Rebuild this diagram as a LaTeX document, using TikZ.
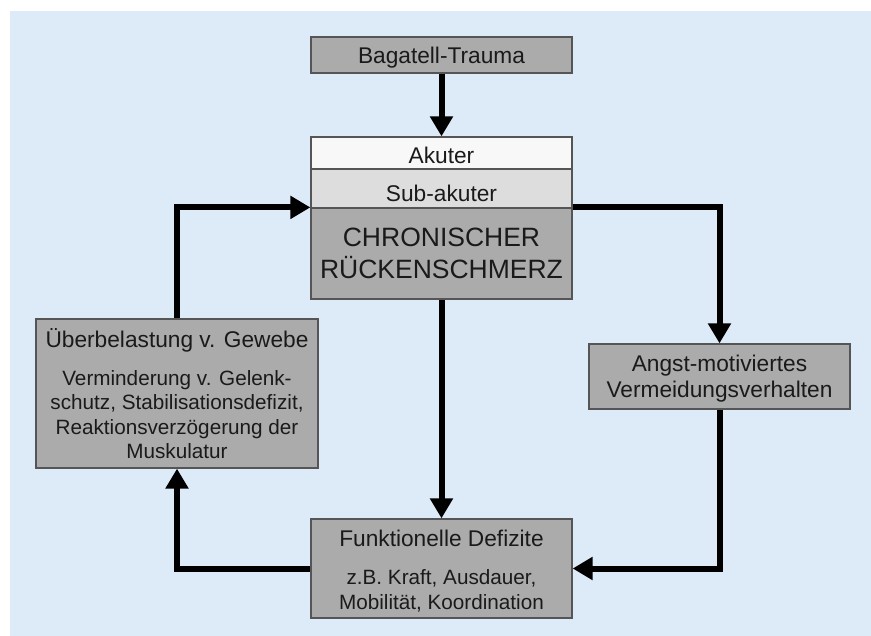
\documentclass[tikz,border=0pt]{standalone}
\usepackage{fontspec}
\setmainfont{Liberation Sans}
\usetikzlibrary{arrows.meta}
\definecolor{bgblue}{HTML}{DDEAF7}
\definecolor{boxgray}{HTML}{ABABAB}
\definecolor{akutcol}{HTML}{F8F8F8}
\definecolor{subcol}{HTML}{DDDDDD}
\definecolor{rimcol}{HTML}{555555}
\definecolor{inkcol}{HTML}{1A1A1A}

\begin{document}
\begin{tikzpicture}[x=1pt,y=-1pt]
\tikzstyle{box}=[draw=rimcol,line width=1.2pt,fill=boxgray,inner sep=0pt,minimum width=261pt]
\tikzstyle{txt}=[anchor=base,inner sep=0pt,align=center,text=inkcol,font=\fontsize{22.7}{26}\selectfont]
\tikzstyle{small}=[font=\fontsize{20.7}{24.5}\selectfont]
\tikzstyle{flow}=[line width=6pt,-{Triangle[length=20pt,width=22pt]}]
\useasboundingbox (0,0) rectangle (871,636);
\fill[bgblue] (10,11) rectangle (871,636);

\path (441.5,55) node[box,minimum height=36pt](trauma){};
\path (441.5,153) node[box,fill=akutcol,minimum height=32pt](akut){};
\path (441.5,188.5) node[box,fill=subcol,minimum height=39pt](subakut){};
\path (441.5,253.5) node[box,minimum height=91pt](chron){};
\path (177,393.5) node[box,minimum width=282pt,minimum height=149pt](ueber){};
\path (719.5,376.5) node[box,minimum height=65pt](angst){};
\path (441.5,568.5) node[box,minimum height=99pt](funk){};

\path (441.5,63.5) node[txt](traumaT){Bagatell-Trauma};
\path (441.5,164) node[txt](akutT){Akuter};
\path (441.5,202) node[txt](subakutT){Sub-akuter};
\path (441.5,279) node[txt,font=\fontsize{26.5}{32}\selectfont](chronT){CHRONISCHER\\ RÜCKENSCHMERZ};
\path (177,459) node[txt,small](ueberT){{\fontsize{22.7}{24.5}\selectfont Überbelastung v. Gewebe}\\[13.5pt]
  Verminderung v. Gelenk-\\ schutz, Stabilisationsdefizit,\\ Reaktionsverzögerung der\\ Muskulatur};
\path (719.5,398) node[txt](angstT){Angst-motiviertes\\ Vermeidungsverhalten};
\path (441.5,609) node[txt,small](funkT){{\fontsize{22.7}{24.5}\selectfont Funktionelle Defizite}\\[13.5pt]
  z.B. Kraft, Ausdauer,\\ Mobilität, Koordination};

\draw[flow] (trauma.south) -- (akut.north);
\draw[flow] (chron.south) -- (funk.north);
\draw[flow] (chron.north east) -| (angst.north);
\draw[flow] (angst.south) |- (funk.east);
\draw[flow] (funk.west) -| (ueber.south);
\draw[flow] (ueber.north) |- (chron.north west);
\end{tikzpicture}
\end{document}
